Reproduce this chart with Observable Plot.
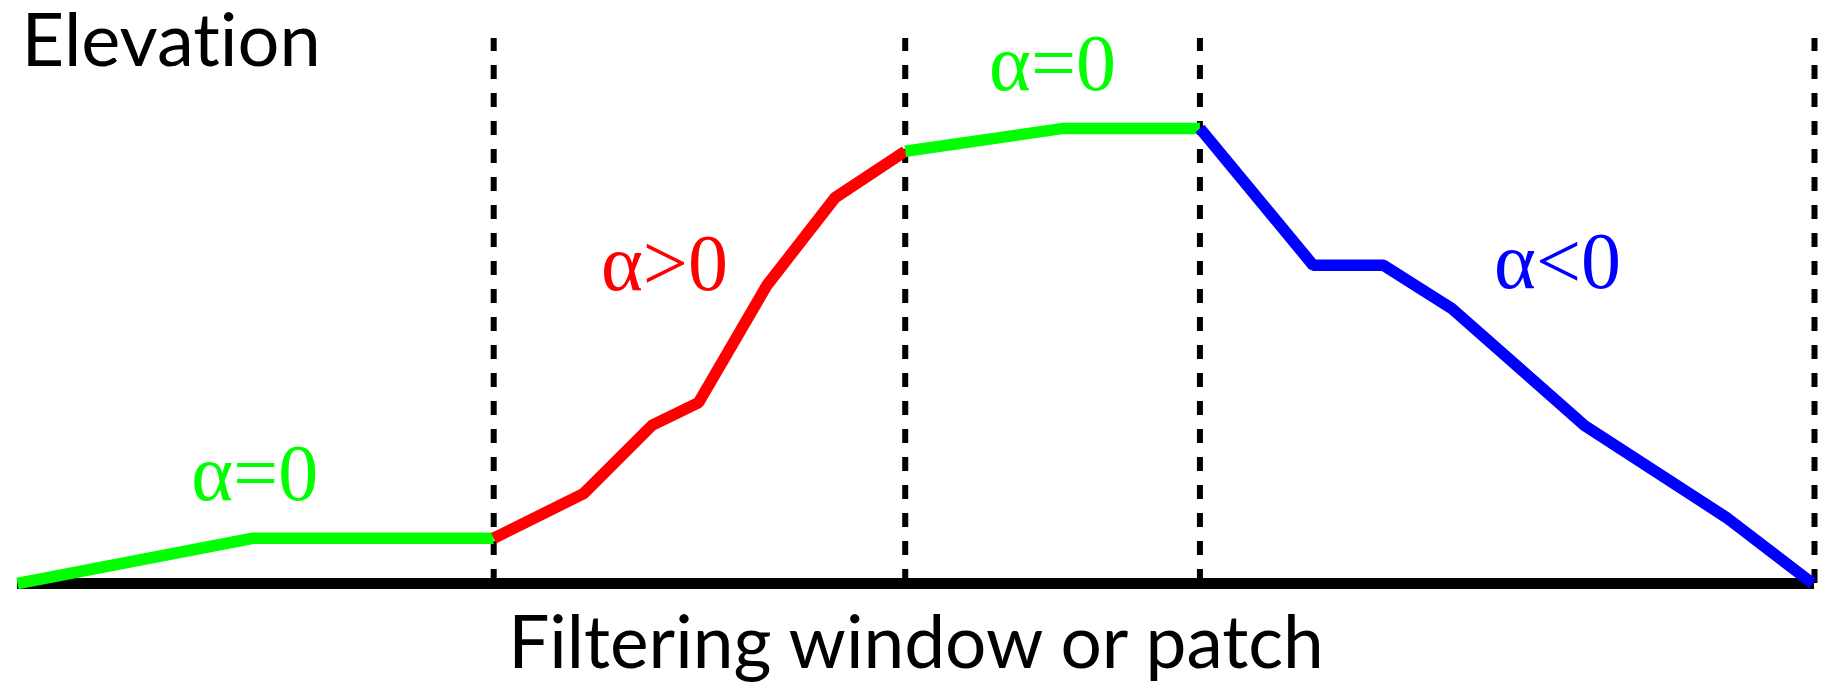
<!DOCTYPE html>
<html><head><meta charset="utf-8">
<script src="https://cdn.jsdelivr.net/npm/d3@7"></script>
<script src="https://cdn.jsdelivr.net/npm/@observablehq/plot@0.6"></script>
<style>html,body{margin:0;padding:0;background:#fff;overflow:hidden} svg text{font-variant-ligatures:none;font-feature-settings:"liga" 0}</style>
</head><body><div id="chart"></div>
<script>
const segments = ["flatStart", "rise", "flatTop", "fall"];
const segmentColors = ["#00ff00", "#ff0000", "#00ff00", "#0000ff"];
const flatStartX = [0, 13.1, 26.5];
const flatStartY = [0, 8.3, 8.3];
const riseX = [26.5, 31.5, 35.3, 37.9, 41.7, 45.5, 49.4];
const riseY = [8.3, 16.5, 29.0, 33.2, 54.7, 70.8, 79.3];
const flatTopX = [49.4, 58.2, 65.8];
const flatTopY = [79.3, 83.5, 83.5];
const fallX = [65.8, 72.1, 76.0, 79.8, 87.2, 95.1, 99.9];
const fallY = [83.5, 58.4, 58.4, 50.5, 29.0, 12.1, 0];
const windowBounds = [26.5, 49.4, 65.8, 100];
const labels = ["α=0", "α>0", "α=0", "α<0"];
const labelX = [13.2, 36.0, 57.6, 85.7];
const labelY = [15.4, 53.9, 90.5, 54.3];
const yLabel = "Elevation";
const xLabel = "Filtering window or patch";

const xs = [flatStartX, riseX, flatTopX, fallX];
const ys = [flatStartY, riseY, flatTopY, fallY];
const points = [];
segments.forEach((s, i) => xs[i].forEach((x, j) => points.push({segment: s, color: segmentColors[i], x, y: ys[i][j]})));
const labelData = labels.map((t, i) => ({text: t, x: labelX[i], y: labelY[i], color: segmentColors[i]}));

const chart = Plot.plot({
  width: 1833,
  height: 691,
  marginLeft: 17,
  marginRight: 19,
  marginTop: 38,
  marginBottom: 108,
  x: {domain: [0, 100], axis: null},
  y: {domain: [0, 100], axis: null},
  color: {type: "identity"},
  marks: [
    Plot.ruleX(windowBounds, {x: d => d, y1: 0, y2: 100, stroke: "black", strokeWidth: 6, strokeDasharray: "14,14"}),
    Plot.ruleY([0], {x1: 0, x2: 100, stroke: "black", strokeWidth: 11}),
    Plot.line(points, {x: "x", y: "y", z: "segment", stroke: "color", strokeWidth: 11.5, strokeLinecap: "butt", strokeLinejoin: "miter"}),
    Plot.text(labelData, {x: "x", y: "y", text: "text", fill: "color", fontFamily: "Liberation Serif", fontSize: 80, lineAnchor: "bottom"}),
    Plot.text([yLabel], {text: d => d, frameAnchor: "top-left", textAnchor: "start", lineAnchor: "bottom", dx: 4, dy: 27, fontFamily: "Lato", fontSize: 74, fill: "black"}),
    Plot.text([xLabel], {text: d => d, frameAnchor: "bottom", lineAnchor: "bottom", dx: 0, dy: 84, fontFamily: "Lato", fontSize: 73, fill: "black"})
  ]
});
document.getElementById("chart").appendChild(chart);
</script>
</body></html>
